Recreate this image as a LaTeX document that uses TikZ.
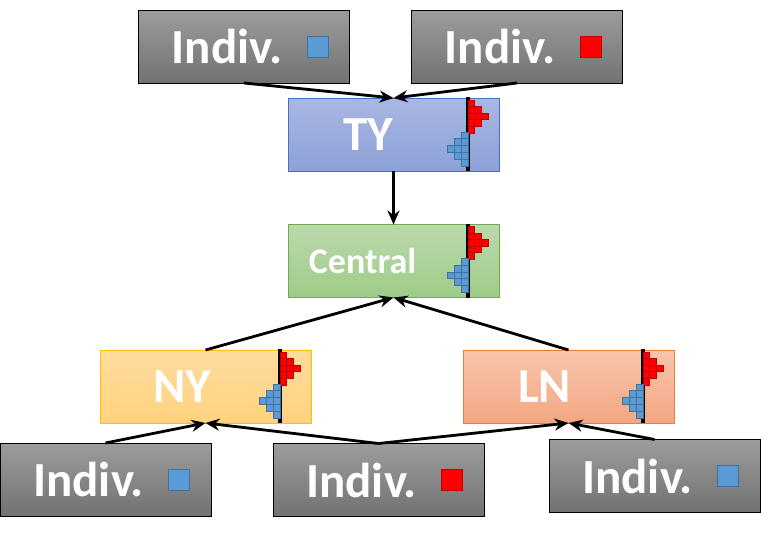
\documentclass[tikz,border=0pt]{standalone}
\usepackage{fontspec}
\setmainfont{Carlito}
\usetikzlibrary{calc,arrows.meta}
\definecolor{grayA}{HTML}{9C9C9C}
\definecolor{grayB}{HTML}{727272}
\definecolor{tyA}{HTML}{A9B7E2}
\definecolor{tyB}{HTML}{8CA1D8}
\definecolor{tyLine}{HTML}{4472C4}
\definecolor{cenA}{HTML}{BAD9AC}
\definecolor{cenB}{HTML}{A0CB88}
\definecolor{cenLine}{HTML}{70AD47}
\definecolor{nyA}{HTML}{FFDC9E}
\definecolor{nyB}{HTML}{FFD27E}
\definecolor{nyLine}{HTML}{FFC000}
\definecolor{lnA}{HTML}{F8C5AB}
\definecolor{lnB}{HTML}{F3A783}
\definecolor{lnLine}{HTML}{ED7D31}
\definecolor{redFill}{HTML}{FF0000}
\definecolor{redLine}{HTML}{C00000}
\definecolor{blueFill}{HTML}{5B9BD5}
\definecolor{blueLine}{HTML}{41719C}
\tikzset{
  unit/.style={draw, line width=0.8pt, minimum width=211, minimum height=73, outer sep=0, inner sep=0,
    text=white, font=\bfseries\fontsize{49}{49}\selectfont},
  indiv/.style={unit, draw=black, top color=grayA, bottom color=grayB},
  redsq/.style={fill=redFill, draw=redLine, line width=0.9pt},
  bluesq/.style={fill=blueFill, draw=blueLine, line width=0.9pt},
  link/.style={line width=2.8pt, -{Stealth[length=14pt,width=12pt]}},
}
\def\marker(#1)#2{\draw[#2] ($(#1.east)+(-42.5,-10.5)$) rectangle +(21,21);}
\def\histo(#1){
  \fill[black] ($(#1.north east)+(-33,-1)$) rectangle ($(#1.south east)+(-29,0)$);
  \foreach \cc/\ra/\rb in {0/0/4,1/1/3,2/2/2}
    \foreach \rr in {\ra,...,\rb}
      \draw[redsq] ($(#1.north east)+(-31+6.8*\cc,2+6.6*\rr)$) rectangle +(6.8,6.6);
  \foreach \cc/\ra/\rb in {0/0/4,1/1/3,2/2/2}
    \foreach \rr in {\ra,...,\rb}
      \draw[bluesq] ($(#1.north east)+(-37.8-6.8*\cc,34+6.8*\rr)$) rectangle +(6.8,6.8);
}

\begin{document}
\begin{tikzpicture}[x=1pt,y=-1pt]
    \useasboundingbox (0,0) rectangle (761,547);
    %%%%% individuals on top %%%%%
    \node[indiv] (ind1) at (244, 46.5) {Indiv.\kern34pt};
    \node[indiv] (ind2) at (517, 46.5) {Indiv.\kern34pt};
    \marker(ind1){bluesq}
    \marker(ind2){redsq}

    %%%%% aggregators %%%%%
    \node[unit, draw=tyLine, top color=tyA, bottom color=tyB] (ty) at (393.5, 134.5) {TY\kern50pt};
    \node[unit, draw=cenLine, top color=cenA, bottom color=cenB, font=\bfseries\fontsize{36}{36}\selectfont] (cen) at (393.5, 261) {Central\kern62pt};
    \node[unit, draw=nyLine, top color=nyA, bottom color=nyB] (ny) at (205.5, 386.5) {NY\kern46pt};
    \node[unit, draw=lnLine, top color=lnA, bottom color=lnB] (ln) at (568.5, 386.5) {LN\kern48pt};
    \histo(ty)
    \histo(cen)
    \histo(ny)
    \histo(ln)

    %%%%% individuals at the bottom %%%%%
    \node[indiv] (ind3) at (105.5, 479.5) {Indiv.\kern34pt};
    \node[indiv] (ind4) at (378.5, 480) {Indiv.\kern34pt};
    \node[indiv] (ind5) at (654.5, 476) {Indiv.\kern34pt};
    \marker(ind3){bluesq}
    \marker(ind4){redsq}
    \marker(ind5){bluesq}

    %%%%% links %%%%%
    \draw[link] (ind1.south) -- (ty.north);
    \draw[link] (ind2.south) -- (ty.north);
    \draw[link] (ty.south) -- (cen.north);
    \draw[link] (ny.north) -- (cen.south);
    \draw[link] (ln.north) -- (cen.south);
    \draw[link] (ind3.north) -- (ny.south);
    \draw[link] (ind4.north) -- (ny.south);
    \draw[link] (ind4.north) -- (ln.south);
    \draw[link] (ind5.north) -- (ln.south);
\end{tikzpicture}
\end{document}
